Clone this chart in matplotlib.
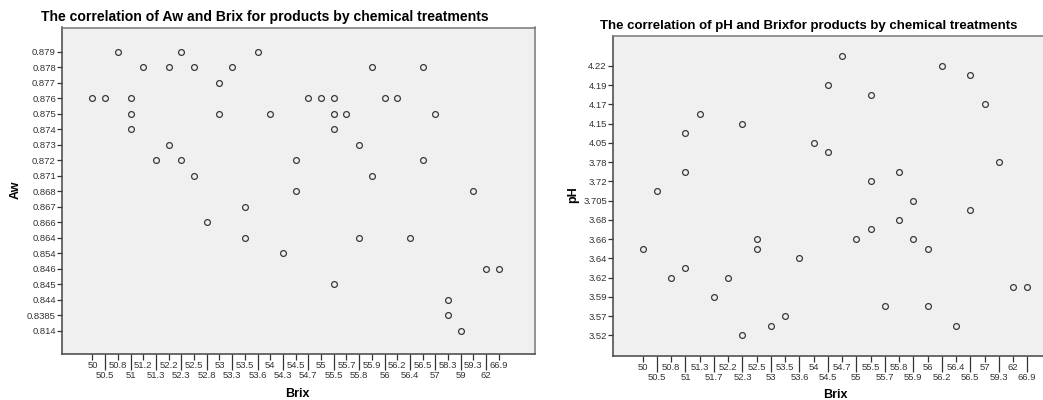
import matplotlib.pyplot as plt
from matplotlib.ticker import FixedLocator, FixedFormatter, NullLocator

plt.rcParams["font.family"] = ["Liberation Sans", "DejaVu Sans"]

# Aw vs Brix (left chart)
aw_brix = [50.8, 52.3, 53.6,
           51.2, 52.2, 52.5, 53.3, 55.9, 56.5,
           53,
           50, 50.5, 51, 54.7, 55, 55.5, 56, 56.2,
           51, 53, 54, 55.5, 55.7, 57,
           51, 55.5,
           52.2, 55.8,
           51.3, 52.3, 54.5, 56.5,
           52.5, 55.9,
           54.5, 59.3,
           53.5,
           52.8,
           53.5, 55.8, 56.4,
           54.3,
           62, 66.9,
           55.5,
           58.3,
           58.3,
           59]
aw_vals = [0.879, 0.879, 0.879,
           0.878, 0.878, 0.878, 0.878, 0.878, 0.878,
           0.877,
           0.876, 0.876, 0.876, 0.876, 0.876, 0.876, 0.876, 0.876,
           0.875, 0.875, 0.875, 0.875, 0.875, 0.875,
           0.874, 0.874,
           0.873, 0.873,
           0.872, 0.872, 0.872, 0.872,
           0.871, 0.871,
           0.868, 0.868,
           0.867,
           0.866,
           0.864, 0.864, 0.864,
           0.854,
           0.846, 0.846,
           0.845,
           0.844,
           0.8385,
           0.814]

# pH vs Brix (right chart)
ph_brix = [54.7, 56.2, 56.5, 54.5, 55.5, 57, 51.3, 52.3, 51, 54, 54.5, 59.3,
           51, 55.8, 55.5, 50.5, 55.9, 56.5, 55.8, 55.5, 52.5, 55, 55.9,
           50, 52.5, 56, 53.6, 51, 50.8, 52.2, 62, 66.9, 51.7, 55.7, 56,
           53.5, 53, 56.4, 52.3]
ph_vals = [4.24, 4.22, 4.20, 4.19, 4.18, 4.17, 4.16, 4.15, 4.10, 4.05, 3.90, 3.78,
           3.75, 3.75, 3.72, 3.71, 3.705, 3.69, 3.68, 3.67, 3.66, 3.66, 3.66,
           3.65, 3.65, 3.65, 3.64, 3.63, 3.62, 3.62, 3.61, 3.61, 3.59, 3.58, 3.58,
           3.57, 3.55, 3.55, 3.52]

W, H = 1043, 400
fig = plt.figure(figsize=(W / 100, H / 100), dpi=100)


def fig_box(l, t, r, b):
    return [l / W, 1 - b / H, (r - l) / W, (b - t) / H]


def cat_x_axis(ax, cats):
    idx = list(range(len(cats)))
    labels = [f"{c:g}" for c in cats]
    ax.xaxis.set_major_locator(FixedLocator(idx[0::2]))
    ax.xaxis.set_major_formatter(FixedFormatter(labels[0::2]))
    ax.xaxis.set_minor_locator(FixedLocator(idx[1::2]))
    ax.xaxis.set_minor_formatter(FixedFormatter(labels[1::2]))
    ax.tick_params(axis="x", which="major", length=4.3, width=0.9, pad=0.8,
                   labelsize=6.8, colors="#333333")
    ax.tick_params(axis="x", which="minor", length=11.8, width=0.9, pad=0.3,
                   labelsize=6.8, colors="#333333")


def style(ax):
    ax.set_facecolor("#f0f0f0")
    for s in ax.spines.values():
        s.set_color("#777777")
        s.set_linewidth(1.1)
    ax.spines["left"].set_color("#444444")
    ax.spines["bottom"].set_color("#444444")
    ax.tick_params(axis="y", length=3.6, width=0.9, pad=0.8, labelsize=6.8,
                   colors="#333333")


# ---- left: Aw ----
ax1 = fig.add_axes(fig_box(62, 27.5, 535, 354))
style(ax1)
bx = sorted(set(aw_brix))
ay = sorted(set(aw_vals), reverse=True)
xi = [bx.index(v) for v in aw_brix]
yi = [ay.index(v) for v in aw_vals]
ax1.plot(xi, yi, "o", ms=4.2, mfc="none", mec="#3a3a3a", mew=0.9)
cat_x_axis(ax1, bx)
ax1.set_yticks(range(len(ay)))
ax1.set_yticklabels([f"{v:g}" for v in ay])
ax1.set_xlim(-2.4, len(bx) - 1 + 2.85)
ax1.set_ylim(len(ay) - 1 + 1.5, -1.55)
fig.text(16 / W, 1 - 190 / H, "Aw", rotation=90, ha="center", va="center",
         fontsize=9, fontweight="bold")
fig.text(297 / W, 1 - 394 / H, "Brix", ha="center", va="center",
         fontsize=9, fontweight="bold")
fig.text(264.5 / W, 1 - 17.5 / H,
         "The correlation of Aw and Brix for products by chemical treatments",
         ha="center", va="center", fontsize=10.1, fontweight="bold")

# ---- right: pH ----
ax2 = fig.add_axes(fig_box(613, 35.5, 1057, 356))
style(ax2)
px = sorted(set(ph_brix))
py = sorted(set(ph_vals))
xi = [px.index(v) for v in ph_brix]
yi = [py.index(v) for v in ph_vals]
ax2.plot(xi, yi, "o", ms=4.2, mfc="none", mec="#3a3a3a", mew=0.9)
cat_x_axis(ax2, px)
ax2.set_yticks(range(0, len(py), 2))
ax2.set_yticklabels([f"{v:g}" for v in py[0::2]])
ax2.yaxis.set_minor_locator(NullLocator())
ax2.set_xlim(-2.09, len(px) - 1 + 2.09)
ax2.set_ylim(-2.15, len(py) - 1 + 2.15)
fig.text(573 / W, 1 - 195 / H, "pH", rotation=90, ha="center", va="center",
         fontsize=9, fontweight="bold")
fig.text(835 / W, 1 - 395 / H, "Brix", ha="center", va="center",
         fontsize=9, fontweight="bold")
fig.text(809 / W, 1 - 26 / H,
         "The correlation of pH and Brixfor products by chemical treatments",
         ha="center", va="center", fontsize=9.5, fontweight="bold")

plt.savefig("out.png", dpi=100)
